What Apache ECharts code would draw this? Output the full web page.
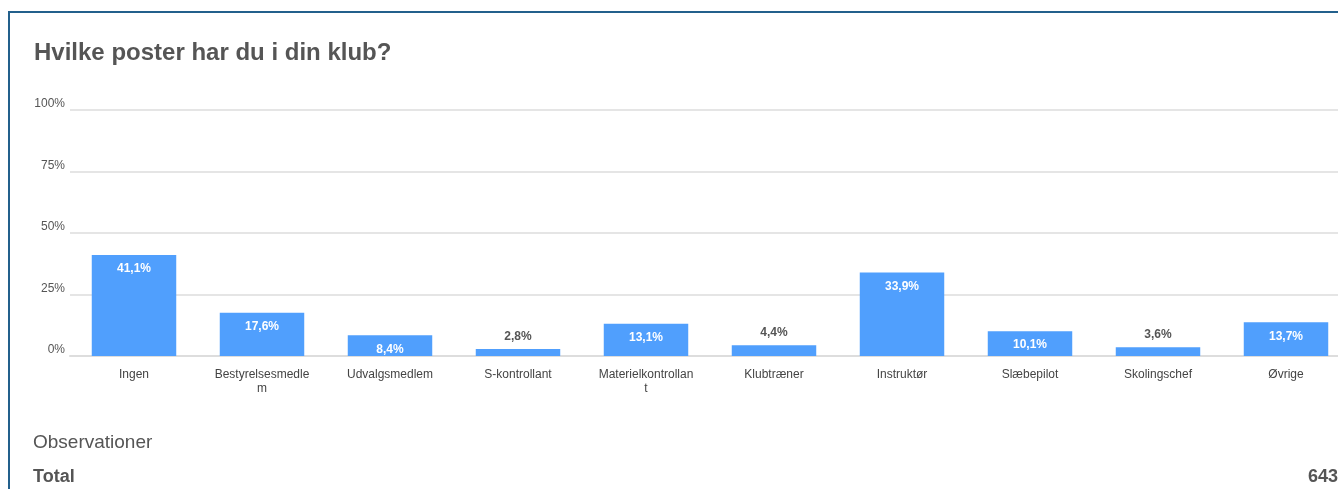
<!DOCTYPE html>
<html>
<head>
<meta charset="utf-8">
<script src="https://cdn.jsdelivr.net/npm/echarts@6/dist/echarts.min.js"></script>
<style>
  html, body { margin: 0; padding: 0; background: #fff; overflow: hidden; }
  #frame {
    position: absolute; left: 8px; top: 11px; width: 1400px; height: 600px;
    border-left: 2px solid #23608c; border-top: 2px solid #23608c;
  }
  #chart { position: absolute; left: 0; top: 0; width: 1360px; height: 489px; }
</style>
</head>
<body>
<div id="frame"></div>
<div id="chart"></div>
<script>
const categories = ['Ingen', 'Bestyrelsesmedlem', 'Udvalgsmedlem', 'S-kontrollant', 'Materielkontrollant',
  'Klubtræner', 'Instruktør', 'Slæbepilot', 'Skolingschef', 'Øvrige'];
const shares = [41.1, 17.6, 8.4, 2.8, 13.1, 4.4, 33.9, 10.1, 3.6, 13.7];
const yTicks = [0, 25, 50, 75, 100];
const totalObservations = 643;

const fontFamily = '"Liberation Sans", Arial, sans-serif';
const fmt = v => v.toFixed(1).replace('.', ',') + '%';

// small bars get their label above the bar
const barData = shares.map(v => ({
  value: v,
  label: v < 6
    ? { position: 'top', color: '#555', distance: 6 }
    : { position: 'insideTop', color: '#fff', distance: 8 }
}));

const chart = echarts.init(document.getElementById('chart'), null, { renderer: 'canvas' });

chart.setOption({
  animation: false,
  textStyle: { fontFamily: fontFamily },
  title: {
    text: 'Hvilke poster har du i din klub?',
    left: 29,
    top: 36,
    textStyle: { fontSize: 24, fontWeight: 'bold', color: '#555', fontFamily: fontFamily }
  },
  grid: { left: 70, top: 110, width: 1280, bottom: 133, containLabel: false },
  xAxis: {
    type: 'category',
    data: categories,
    axisLine: { show: true, lineStyle: { color: '#ddd', width: 2 } },
    axisTick: { show: false },
    axisLabel: {
      interval: 0,
      margin: 12,
      color: '#444',
      fontSize: 12,
      width: 98,
      overflow: 'breakAll',
      lineHeight: 14
    }
  },
  yAxis: {
    type: 'value',
    min: yTicks[0],
    max: yTicks[yTicks.length - 1],
    interval: 25,
    axisLine: { show: false },
    axisTick: { show: false },
    splitLine: { lineStyle: { color: '#ddd', width: 1.5 } },
    axisLabel: {
      formatter: '{value}%',
      color: '#555',
      fontSize: 12,
      margin: 5,
      verticalAlign: 'bottom'
    }
  },
  series: [{
    type: 'bar',
    data: barData,
    barWidth: '66%',
    itemStyle: { color: '#509ffd' },
    label: {
      show: true,
      fontSize: 12,
      fontWeight: 'bold',
      formatter: p => fmt(p.value)
    }
  }],
  graphic: [
    {
      type: 'text', left: 33, top: 433,
      style: { text: 'Observationer', fontSize: 19, fill: '#555', fontFamily: fontFamily }
    },
    {
      type: 'text', left: 33, top: 468,
      style: { text: 'Total', fontSize: 18, fontWeight: 'bold', fill: '#555', fontFamily: fontFamily }
    },
    {
      type: 'text', x: 1338, y: 468,
      style: { text: String(totalObservations), fontSize: 18, fontWeight: 'bold', fill: '#555', align: 'right', fontFamily: fontFamily }
    }
  ]
});
</script>
</body>
</html>
